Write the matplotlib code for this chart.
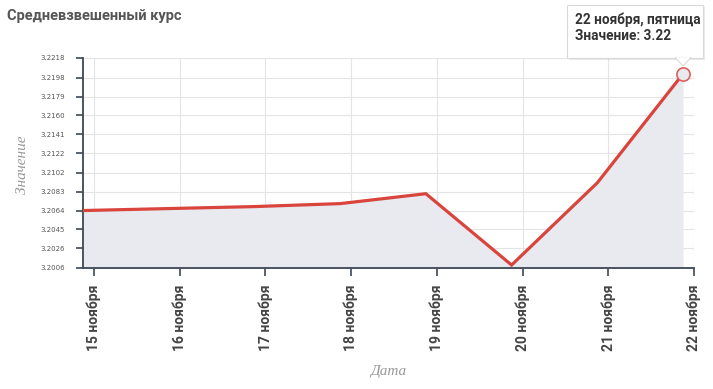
import numpy as np
import matplotlib
matplotlib.use("Agg")
import matplotlib.pyplot as plt
from matplotlib.patches import Polygon, Rectangle

dates = ["15 ноября", "16 ноября", "17 ноября", "18 ноября",
         "19 ноября", "20 ноября", "21 ноября", "22 ноября"]
values = [3.2064, 3.2066, 3.2068, 3.2071, 3.2081, 3.2009, 3.2092, 3.2202]
ytick_vals = [3.2006, 3.2026, 3.2045, 3.2064, 3.2083, 3.2102,
              3.2122, 3.2141, 3.2160, 3.2179, 3.2198, 3.2218]
tip_lines = ["22 ноября, пятница", "Значение: 3.22"]

W, H = 713, 389
fig = plt.figure(figsize=(W / 100, H / 100), dpi=100)
ax = fig.add_axes([83 / W, 1 - 268 / H, (694 - 83) / W, (268 - 58) / H])

x = np.arange(len(values))
shift = 0.128  # ticks sit a bit right of the points in the original

ax.fill_between(x, values, ytick_vals[0], color="#e9eaef", lw=0, zorder=1)
ax.plot(x, values, color="#d9443c", lw=2.3, solid_joinstyle="miter", zorder=3)
ax.plot(x[-1], values[-1], "o", ms=9.5, mfc="#e9eaef", mec="#e0605c", mew=1.2, zorder=4)

ax.set_xlim(0, x[-1] + shift)
ax.set_ylim(ytick_vals[0], ytick_vals[-1])
ax.set_xticks(x + shift)
ax.set_xticklabels(dates, rotation=90, fontsize=10, fontweight="bold",
                   color="#444444", family="Roboto")
ax.set_yticks(ytick_vals)
ax.set_yticklabels(["%.4f" % v for v in ytick_vals], fontsize=5, color="#555555")

ax.grid(True, color="#e4e4e4", lw=0.8, zorder=0)
ax.set_axisbelow(True)
for s in ["top", "right"]:
    ax.spines[s].set_visible(False)
for s in ["left", "bottom"]:
    ax.spines[s].set_color("#3c4858")
    ax.spines[s].set_linewidth(1.3)
ax.tick_params(axis="y", length=5, width=1.2, color="#3c4858", pad=8)
ax.tick_params(axis="x", length=6, width=1.2, color="#3c4858", pad=6)

fig.text(22 / W, 1 - 165 / H, "Значение", rotation=90, ha="center", va="center",
         fontsize=11, style="italic", color="#999999", family="Liberation Serif")
fig.text(388 / W, 1 - 371 / H, "Дата", ha="center", va="center",
         fontsize=11, style="italic", color="#999999", family="Liberation Serif")
fig.text(7 / W, 1 - 16 / H, "Средневзвешенный курс", ha="left", va="center",
         fontsize=10.5, fontweight="bold", color="#555555", family="Roboto")

# tooltip: shadow, box, pointer, text
def fx(px):
    return px / W

def fy(py):
    return 1 - py / H

shadow = Rectangle((fx(569), fy(60)), fx(703) - fx(567), fy(5) - fy(58),
                   transform=fig.transFigure, fc="#000000", alpha=0.08, ec="none", zorder=9)
box = Rectangle((fx(567), fy(58)), fx(703) - fx(567), fy(5) - fy(58),
                transform=fig.transFigure, fc="white", ec="#d8d8d8", lw=0.8, zorder=10)
tri = Polygon([(fx(675), fy(57.5)), (fx(691), fy(57.5)), (fx(683), fy(66))],
              closed=True, transform=fig.transFigure, fc="white", ec="#d8d8d8", lw=0.8, zorder=10)
tri_cover = Polygon([(fx(675.8), fy(57.2)), (fx(690.2), fy(57.2)), (fx(683), fy(64.5))],
                    closed=True, transform=fig.transFigure, fc="white", ec="none", zorder=11)
fig.patches.extend([shadow, box, tri, tri_cover])
fig.text(fx(575), fy(19.5), tip_lines[0], ha="left", va="center", fontsize=9.8,
         fontweight="bold", color="#333333", family="Roboto", zorder=12)
fig.text(fx(575), fy(36.5), tip_lines[1], ha="left", va="center", fontsize=9.8,
         fontweight="bold", color="#333333", family="Roboto", zorder=12)

fig.savefig("out.png", dpi=100)
